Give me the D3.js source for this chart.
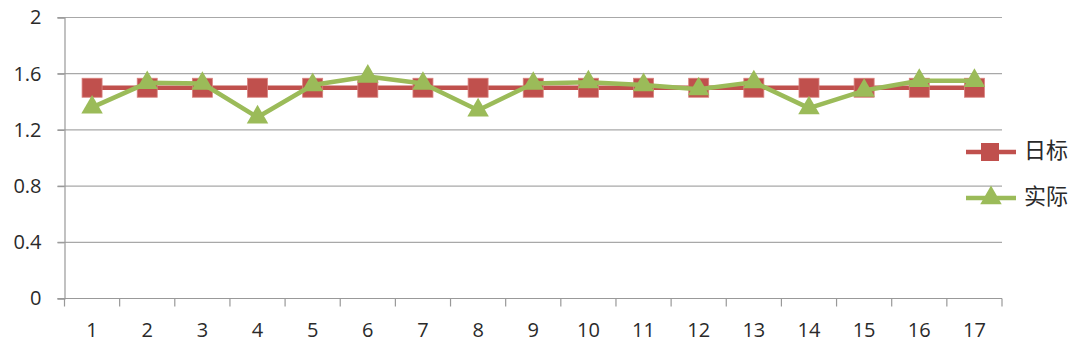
<!DOCTYPE html>
<html>
<head>
<meta charset="utf-8">
<script src="https://cdn.jsdelivr.net/npm/d3@7"></script>
<style>
  body { margin: 0; background: #fff; }
  text { font-family: "Open Sans", "Noto Sans CJK SC", sans-serif; fill: #2a2a2a; }
</style>
</head>
<body>
<div id="chart"></div>
<script>
let width = 1080,
    height = 355,
    margin = ({ top: 17.5, right: 78, bottom: 56.5, left: 64.5 });

// data
let categories = d3.range(1, 18).map(String);
let targetValues = [1.5, 1.5, 1.5, 1.5, 1.5, 1.5, 1.5, 1.5, 1.5, 1.5, 1.5, 1.5, 1.5, 1.5, 1.5, 1.5, 1.5];
let actualValues = [1.36, 1.535, 1.53, 1.29, 1.52, 1.58, 1.53, 1.34, 1.53, 1.54, 1.52, 1.49, 1.54, 1.355, 1.48, 1.55, 1.55];
let yTicks = [0, 0.4, 0.8, 1.2, 1.6, 2];
let seriesNames = ["日标", "实际"];

const svg = d3.select("#chart")
  .append("svg")
  .attr("width", width)
  .attr("height", height);

let x = d3.scaleBand()
  .domain(categories)
  .range([margin.left, width - margin.right]);

let y = d3.scaleLinear()
  .domain([0, 2])
  .range([height - margin.bottom, margin.top]);

let plotRight = x.range()[1];

// gridlines
svg.append("g")
  .selectAll("line")
  .data(yTicks.filter(d => d > 0))
  .join("line")
  .attr("x1", margin.left - 7)
  .attr("x2", plotRight)
  .attr("y1", d => y(d))
  .attr("y2", d => y(d))
  .attr("stroke", "#a8a8a8")
  .attr("stroke-width", 1.2);

// y axis
let yAxis = svg.append("g")
  .attr("transform", `translate(${margin.left},0)`)
  .call(d3.axisLeft(y).tickValues(yTicks).tickSize(7).tickPadding(15).tickFormat(d => d));
yAxis.select(".domain").attr("stroke", "#999").attr("stroke-width", 1.2);
yAxis.selectAll(".tick line").attr("stroke", "#999").attr("stroke-width", 1.2);
yAxis.selectAll("text").attr("font-size", 20).attr("fill", "#2a2a2a");
yAxis.selectAll(".tick text").attr("x", -23);

// x axis with ticks on category boundaries
let xAxisG = svg.append("g")
  .attr("transform", `translate(0,${y(0)})`);
xAxisG.append("line")
  .attr("x1", margin.left - 7)
  .attr("x2", plotRight)
  .attr("stroke", "#999")
  .attr("stroke-width", 1.2);
xAxisG.selectAll(".bound")
  .data(categories)
  .join("line")
  .attr("class", "bound")
  .attr("x1", d => x(d) + x.bandwidth())
  .attr("x2", d => x(d) + x.bandwidth())
  .attr("y1", 0)
  .attr("y2", 8)
  .attr("stroke", "#999")
  .attr("stroke-width", 1.2);
xAxisG.append("line")
  .attr("x1", margin.left).attr("x2", margin.left)
  .attr("y1", 0).attr("y2", 8)
  .attr("stroke", "#999").attr("stroke-width", 1.2);
xAxisG.selectAll("text")
  .data(categories)
  .join("text")
  .attr("x", d => x(d) + x.bandwidth() / 2)
  .attr("y", 33)
  .attr("text-anchor", "middle")
  .attr("dominant-baseline", "middle")
  .attr("font-size", 20)
  .text(d => d);

let cx = (d, i) => x(categories[i]) + x.bandwidth() / 2;

let line = d3.line()
  .x(cx)
  .y(d => y(d));

// target series
svg.append("path")
  .datum(targetValues)
  .attr("fill", "none")
  .attr("stroke", "#c0504d")
  .attr("stroke-width", 4.5)
  .attr("d", line);

svg.append("g")
  .selectAll("rect")
  .data(targetValues)
  .join("rect")
  .attr("x", (d, i) => cx(d, i) - 10)
  .attr("y", d => y(d) - 9.5)
  .attr("width", 20)
  .attr("height", 19)
  .attr("fill", "#c0504d")
  .attr("stroke", "#d9827f")
  .attr("stroke-width", 0.8);

// actual series
svg.append("path")
  .datum(actualValues)
  .attr("fill", "none")
  .attr("stroke", "#9bbb59")
  .attr("stroke-width", 4.5)
  .attr("stroke-linejoin", "round")
  .attr("d", line);

let tri = d3.symbol().type(d3.symbolTriangle).size(200);

svg.append("g")
  .selectAll("path")
  .data(actualValues)
  .join("path")
  .attr("transform", (d, i) => `translate(${cx(d, i)},${y(d)})`)
  .attr("d", tri)
  .attr("fill", "#9bbb59");

// legend
let legend = svg.append("g");
let legendY = [152, 198];
seriesNames.forEach((name, i) => {
  let color = i === 0 ? "#c0504d" : "#9bbb59";
  legend.append("line")
    .attr("x1", 966).attr("x2", 1016)
    .attr("y1", legendY[i]).attr("y2", legendY[i])
    .attr("stroke", color).attr("stroke-width", 4.5);
  if (i === 0) {
    legend.append("rect")
      .attr("x", 981).attr("y", legendY[i] - 9)
      .attr("width", 18).attr("height", 18)
      .attr("fill", color);
  } else {
    legend.append("path")
      .attr("transform", `translate(991,${legendY[i]})`)
      .attr("d", tri)
      .attr("fill", color);
  }
  legend.append("text")
    .attr("x", 1024)
    .attr("y", legendY[i])
    .attr("dominant-baseline", "middle")
    .attr("font-size", 22)
    .attr("font-family", "Noto Sans CJK SC")
    .text(name);
});
</script>
</body>
</html>
